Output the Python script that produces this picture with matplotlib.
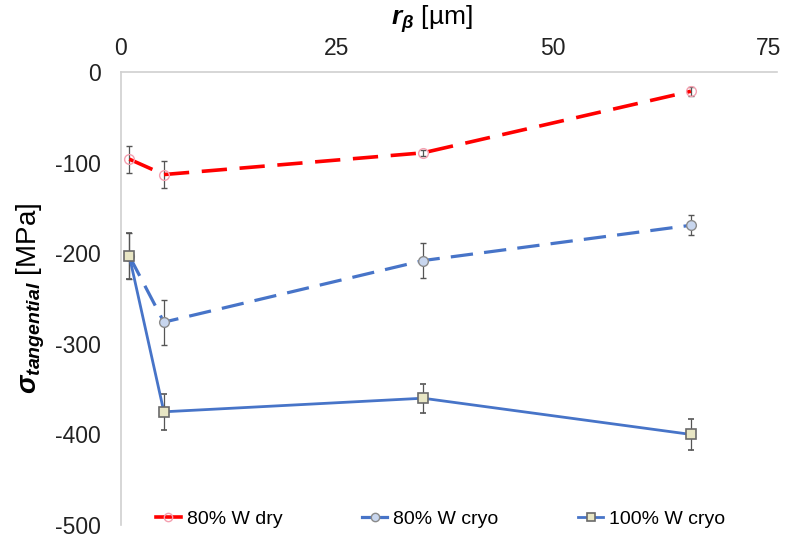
import matplotlib
matplotlib.use("Agg")
import matplotlib.pyplot as plt
from matplotlib.lines import Line2D

plt.rcParams["font.family"] = ["Liberation Sans", "DejaVu Sans"]
plt.rcParams["mathtext.fontset"] = "custom"
plt.rcParams["mathtext.bf"] = "Liberation Sans:bold:italic"
plt.rcParams["mathtext.it"] = "Liberation Sans:italic"
plt.rcParams["mathtext.rm"] = "Liberation Sans"
plt.rcParams["axes.unicode_minus"] = False

# data
r_beta = [1, 5, 35, 66]
dry80 = [-96, -113, -89, -21]
dry80_err = [15, 15, 3, 5]
cryo80 = [-203, -276, -208, -169]
cryo80_err = [25, 25, 19, 11]
cryo100 = [-203, -375, -360, -400]
cryo100_err = [25, 20, 16, 17]
labels = ["80% W dry", "80% W cryo", "100% W cryo"]

fig = plt.figure(figsize=(7.94, 5.39), dpi=100)
ax = fig.add_axes([0.152, 0.026, 0.827, 0.840])

red = "#ff0000"
blue = "#4774c8"
ecol = "#555555"

styles = [
    dict(color=red, lw=2.6, dashes=(7, 3.5), marker="o", ms=7, mfc="none",
         mec="#f4a0b0", mew=1.0),
    dict(color=blue, lw=2.3, dashes=(7, 3.5), marker="o", ms=7, mfc="#c8d6ee",
         mec="#8a8a8a", mew=1.0),
    dict(color=blue, lw=2.0, marker="s", ms=7, mfc="#e8e6c4", mec="#6a6a6a",
         mew=1.2),
]
series = [(dry80, dry80_err), (cryo80, cryo80_err), (cryo100, cryo100_err)]

handles = []
for (vals, err), st, lab, z in zip(series, styles, labels, [3, 3, 4]):
    ax.errorbar(r_beta, vals, yerr=err, ecolor=ecol, elinewidth=0.9,
                capsize=2.5, capthick=0.9, zorder=z, **st)
    hst = dict(st)
    hst["ms"] = 6
    hst.pop("dashes", None)
    handles.append(Line2D([], [], label=lab, **hst))

ax.set_xlim(0, 76)
ax.set_ylim(-500, 0)
ax.set_xticks([0, 25, 50, 75])
ax.set_yticks([0, -100, -200, -300, -400, -500])
ax.xaxis.tick_top()
ax.xaxis.set_label_position("top")
ax.tick_params(length=0, labelsize=16.5, colors="#222222")
ax.tick_params(axis="x", pad=9)
ax.tick_params(axis="y", pad=14)

for s in ["bottom", "right"]:
    ax.spines[s].set_visible(False)
for s in ["top", "left"]:
    ax.spines[s].set_color("#d0d0d0")
    ax.spines[s].set_linewidth(1.2)

ax.set_xlabel(r"$\mathbf{r_{\beta}}$ [µm]", fontsize=19)
ax.xaxis.set_label_coords(0.474, 1.105)
ax.set_ylabel(r"$\mathbf{\sigma_{tangential}}$ [MPa]", fontsize=20, labelpad=6)

ax.legend(handles=handles, loc="lower center", bbox_to_anchor=(0.487, -0.045),
          ncol=3, frameon=False, fontsize=14, handlelength=1.3,
          columnspacing=4.1, handletextpad=0.3)

fig.savefig("out.png", dpi=100)
